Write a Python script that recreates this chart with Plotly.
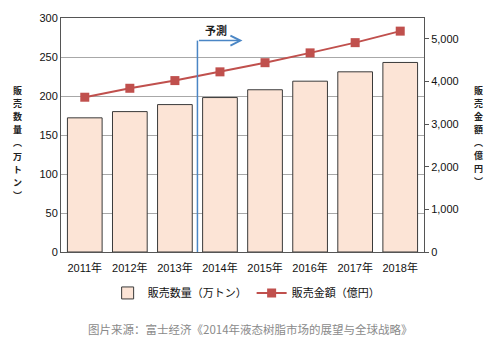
import plotly.graph_objects as go

years = ["2011年", "2012年", "2013年", "2014年", "2015年", "2016年", "2017年", "2018年"]
volume = [172, 180, 189, 198, 208, 219, 231, 243]          # 万トン
amount = [3630, 3840, 4020, 4225, 4440, 4670, 4910, 5180]  # 億円
left_ticks = [0, 50, 100, 150, 200, 250, 300]
right_ticks = [0, 1000, 2000, 3000, 4000, 5000]
left_title = "販売数量︵万トン︶"
right_title = "販売金額︵億円︶"
forecast_label = "予測"
legend_bar = "販売数量（万トン）"
legend_line = "販売金額（億円）"
source = "图片来源：富士经济《2014年液态树脂市场的展望与全球战略》"

FONT = "Liberation Sans, Noto Sans CJK JP, sans-serif"

fig = go.Figure()
fig.add_trace(go.Bar(
    x=years, y=volume, name=legend_bar,
    marker=dict(color="#fce4d6", line=dict(color="#3a3a3a", width=1)),
    yaxis="y",
))
fig.add_trace(go.Scatter(
    x=years, y=amount, name=legend_line, mode="lines+markers",
    line=dict(color="#c0504d", width=2),
    marker=dict(symbol="square", size=9, color="#c0504d"),
    yaxis="y2",
))

W, H = 494, 350
L, R, T, B = 61, 70, 16, 98

fig.update_layout(
    width=W, height=H,
    margin=dict(l=L, r=R, t=T, b=B),
    paper_bgcolor="white", plot_bgcolor="white",
    bargap=0.23,
    font=dict(family=FONT, size=11, color="#111"),
    showlegend=True,
    legend=dict(orientation="h", x=0.51, xanchor="center", y=-0.175, yanchor="middle",
                font=dict(size=11, family="Noto Sans CJK JP"), itemwidth=30,
                tracegroupgap=0),
    xaxis=dict(showline=True, linecolor="#555", linewidth=1, mirror=True,
               tickfont=dict(size=11), ticks="", showgrid=False, ticklabelstandoff=6),
    yaxis=dict(range=[0, 300], tickvals=left_ticks, showgrid=True, gridcolor="#a8a8a8",
               gridwidth=1, showline=True, linecolor="#555", mirror=True, zeroline=False,
               ticks="", tickfont=dict(size=11)),
    yaxis2=dict(overlaying="y", side="right", range=[0, 5488], tickvals=right_ticks,
                tickformat=",", showgrid=False, zeroline=False, showline=True,
                linecolor="#555", ticks="outside", ticklen=4, tickcolor="#555",
                tickfont=dict(size=11)),
)

# forecast divider
fig.add_shape(type="line", xref="x", yref="y", x0=2.5, x1=2.5, y0=0, y1=271,
              line=dict(color="#4a86c5", width=1.5))
fig.add_annotation(xref="x", yref="y", axref="x", ayref="y",
                   x=3.5, y=271, ax=2.5, ay=271, text="", showarrow=True,
                   arrowhead=5, arrowsize=1.3, arrowwidth=1.5, arrowcolor="#4a86c5")
fig.add_annotation(xref="x", yref="y", x=2.92, y=284, text="<b>" + forecast_label + "</b>",
                   showarrow=False, font=dict(size=11, family="Noto Sans CJK JP", color="#222"))

# vertical axis titles (stacked characters, one annotation each)
plot_h = H - T - B
def add_vertical(text, xpx, ycenter_px, step=13.2):
    n = len(text)
    for i, ch in enumerate(text):
        ypx = ycenter_px + (i - (n - 1) / 2) * step
        fig.add_annotation(xref="paper", yref="paper",
                           x=(xpx - L) / (W - L - R), y=(H - B - ypx) / plot_h,
                           text="<b>" + ch + "</b>", showarrow=False,
                           xanchor="center", yanchor="middle",
                           font=dict(size=9, family="Noto Sans CJK JP", color="#222"))

add_vertical(left_title, 17, 142)
add_vertical(right_title, 478, 135)

# source caption
fig.add_annotation(xref="paper", yref="paper", x=(250 - L) / (W - L - R),
                   y=(H - B - 330) / plot_h, text=source, showarrow=False,
                   xanchor="center", yanchor="middle",
                   font=dict(size=11.5, family="Noto Sans CJK SC", color="#8a8a8a"))

fig.write_html("out.html")
